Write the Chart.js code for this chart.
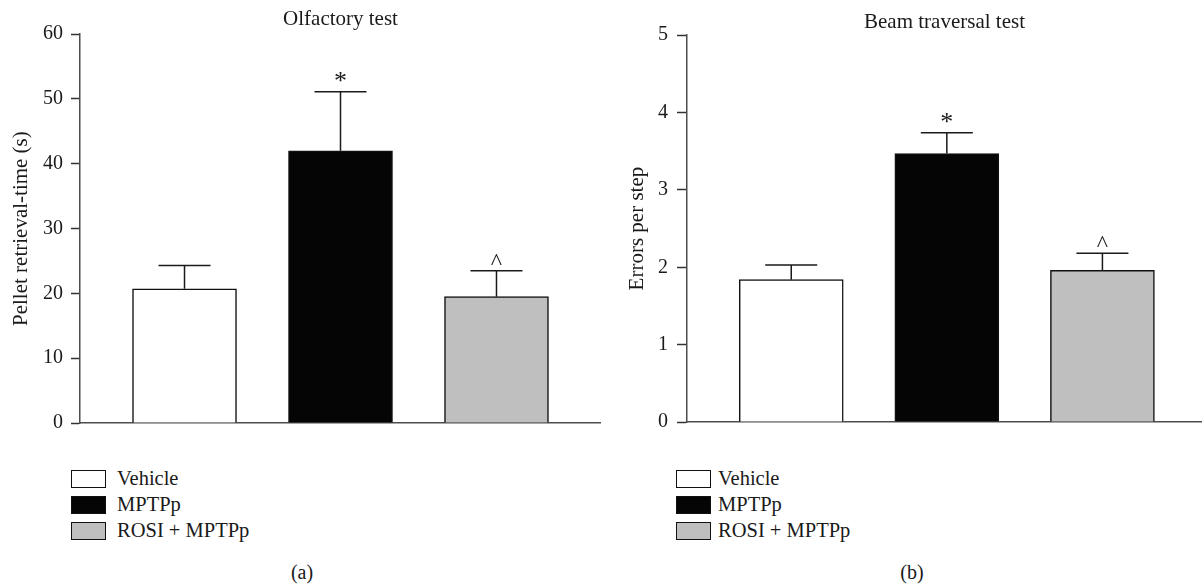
<!DOCTYPE html>
<html><head><meta charset="utf-8">
<script src="https://cdn.jsdelivr.net/npm/chart.js@4.4.1/dist/chart.umd.min.js"></script>
<style>
html,body{margin:0;padding:0;background:#fff;}
body{width:1202px;height:584px;position:relative;overflow:hidden;font-family:"Liberation Serif",serif;color:#1a1a1a;}
.panel{position:absolute;top:0;width:601px;height:443px;}
.legend{position:absolute;top:0;left:0;font-size:20.5px;}
.item{position:absolute;height:18px;line-height:18px;white-space:nowrap;}
.box{position:absolute;left:0;top:0;width:33px;height:16px;border:1px solid #111;}
.label{position:absolute;top:-1px;}
.caption{position:absolute;font-size:20px;transform:translate(-50%,-50%);white-space:nowrap;}
</style></head>
<body>
<div class="panel" style="left:0"><canvas id="chartA"></canvas></div>
<div class="panel" style="left:601px"><canvas id="chartB"></canvas></div>
<div id="legendA"></div>
<div id="legendB"></div>
<div class="caption" style="left:302px;top:572px">(a)</div>
<div class="caption" style="left:912px;top:572px">(b)</div>
<script>
const categories = ['Vehicle', 'MPTPp', 'ROSI + MPTPp'];
const barColors = ['#ffffff', '#050505', '#bfbfbf'];
const olfactoryMeans = [20.7, 42.0, 19.5];
const olfactoryErrors = [3.6, 9.1, 4.0];
const olfactoryMarks = ['', '*', '^'];
const olfactoryTicks = [0, 10, 20, 30, 40, 50, 60];
const beamMeans = [1.84, 3.47, 1.96];
const beamErrors = [0.19, 0.27, 0.22];
const beamMarks = ['', '*', '^'];
const beamTicks = [0, 1, 2, 3, 4, 5];

const FONT = 'Liberation Serif';
const INK = '#1a1a1a';

const errorBarPlugin = {
  id: 'errorBars',
  afterDatasetsDraw(chart, args, opts) {
    const {ctx} = chart;
    const y = chart.scales.y;
    const meta = chart.getDatasetMeta(0);
    ctx.save();
    ctx.strokeStyle = INK;
    ctx.lineWidth = 1.5;
    meta.data.forEach((bar, i) => {
      const top = y.getPixelForValue(opts.means[i] + opts.errors[i]);
      const x = bar.x;
      const half = bar.width / 4;
      ctx.beginPath();
      ctx.moveTo(x, bar.y);
      ctx.lineTo(x, top);
      ctx.moveTo(x - half, top);
      ctx.lineTo(x + half, top);
      ctx.stroke();
      const m = opts.marks[i];
      if (m) {
        ctx.fillStyle = INK;
        ctx.textAlign = 'center';
        ctx.textBaseline = 'alphabetic';
        if (m === '*') {
          ctx.font = '26px "' + FONT + '"';
          ctx.fillText(m, x, top - 3);
        } else {
          ctx.font = '24px "' + FONT + '"';
          ctx.fillText(m, x, top - 2);
        }
      }
    });
    ctx.restore();
  }
};

function makeChart(id, cfg) {
  return new Chart(document.getElementById(id), {
    type: 'bar',
    data: {
      datasets: [{
        label: cfg.title,
        data: cfg.means.map((v, i) => ({x: i + 1, y: v})),
        backgroundColor: barColors,
        borderColor: '#111',
        borderWidth: 1.5,
        borderSkipped: 'start',
        barThickness: 104
      }]
    },
    options: {
      responsive: true,
      maintainAspectRatio: false,
      animation: false,
      layout: {padding: {left: 0, right: 0, top: 0, bottom: 0}},
      plugins: {
        legend: {display: false},
        tooltip: {enabled: false},
        title: {
          display: true, text: cfg.title, fullSize: false,
          color: INK, font: {family: FONT, size: 21, weight: 'normal'},
          padding: {top: cfg.titleTop, bottom: cfg.titleBottom}
        },
        errorBars: {means: cfg.means, errors: cfg.errors, marks: cfg.marks}
      },
      scales: {
        x: {
          type: 'linear', min: cfg.xMin, max: cfg.xMax, offset: false,
          ticks: {display: false},
          grid: {display: false, drawTicks: false},
          border: {display: true, color: '#4d4d4d', width: 1.5},
          afterFit(s) { s.height = 13; }
        },
        y: {
          min: cfg.ticks[0], max: cfg.ticks[cfg.ticks.length - 1],
          afterBuildTicks(s) { s.ticks = cfg.ticks.map(v => ({value: v})); },
          ticks: {color: INK, font: {family: FONT, size: 20}, padding: cfg.tickPad},
          grid: {display: true, drawOnChartArea: false, drawTicks: true, tickLength: cfg.tickLen, tickColor: '#333', tickWidth: 1.5},
          border: {display: true, color: '#4d4d4d', width: 1.5},
          title: {display: true, text: cfg.yTitle, color: INK, font: {family: FONT, size: 21}, padding: {top: cfg.yTitlePad, bottom: 0}},
          afterFit(s) { s.width = cfg.axisWidth; }
        }
      }
    },
    plugins: [errorBarPlugin]
  });
}

makeChart('chartA', {
  title: 'Olfactory test', yTitle: 'Pellet retrieval-time (s)',
  means: olfactoryMeans, errors: olfactoryErrors, marks: olfactoryMarks, ticks: olfactoryTicks,
  xMin: 0.33, xMax: 3.67, axisWidth: 80, yTitlePad: 9, tickPad: 8, tickLen: 9,
  titleTop: 7, titleBottom: 2
});
makeChart('chartB', {
  title: 'Beam traversal test', yTitle: 'Errors per step',
  means: beamMeans, errors: beamErrors, marks: beamMarks, ticks: beamTicks,
  xMin: 0.33, xMax: 3.64, axisWidth: 86, yTitlePad: 24, tickPad: 9, tickLen: 10,
  titleTop: 10, titleBottom: 0
});

function buildLegend(id, left, textLeft) {
  const el = document.getElementById(id);
  el.className = 'legend';
  const tops = [470, 496, 522];
  categories.forEach((c, i) => {
    const item = document.createElement('div');
    item.className = 'item';
    item.style.left = left + 'px';
    item.style.top = tops[i] + 'px';
    const box = document.createElement('div');
    box.className = 'box';
    box.style.background = barColors[i];
    const lab = document.createElement('span');
    lab.className = 'label';
    lab.style.left = textLeft + 'px';
    lab.textContent = c;
    item.appendChild(box);
    item.appendChild(lab);
    el.appendChild(item);
  });
}
buildLegend('legendA', 71, 46);
buildLegend('legendB', 676, 42);
</script>
</body></html>
